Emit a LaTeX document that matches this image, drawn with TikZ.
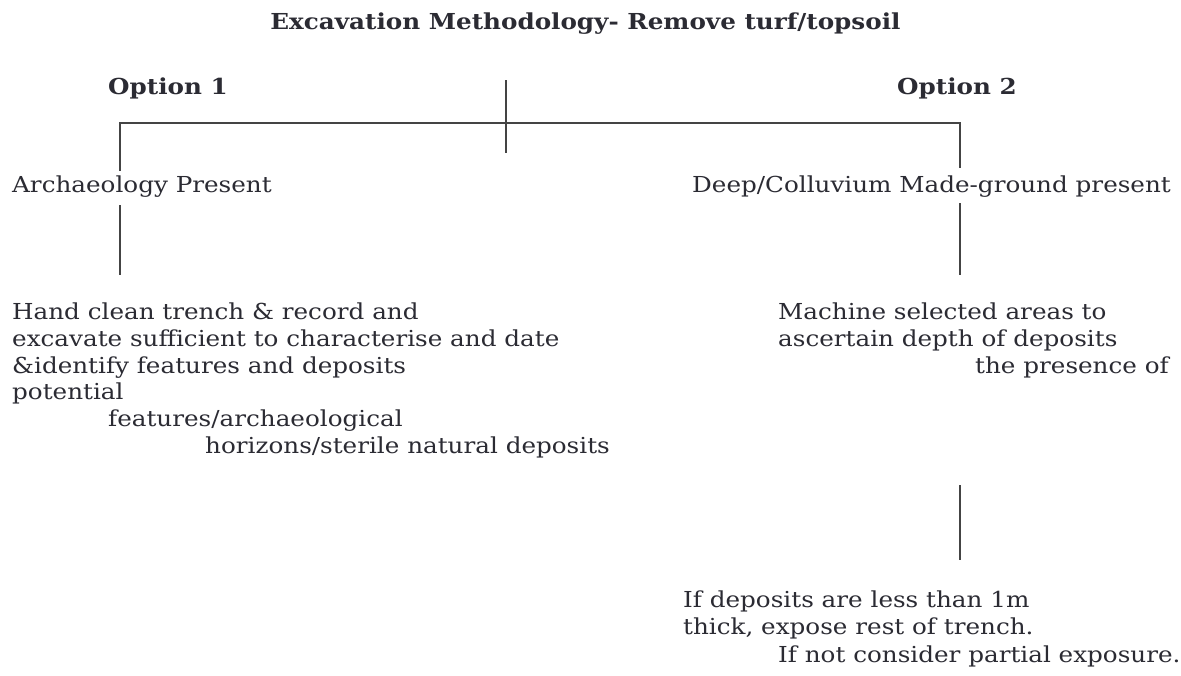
\documentclass[tikz,border=0pt]{standalone}
\usepackage{fontspec}
\setmainfont{DejaVu Serif}[FakeStretch=1.12]
\definecolor{ink}{HTML}{2B2B33}
\definecolor{rule}{HTML}{444444}
\begin{document}
\begin{tikzpicture}[x=1pt,y=-1pt,
  txt/.style={anchor=base west,inner sep=0pt,text=ink,font=\fontsize{22}{26}\selectfont},
  hdr/.style={txt,font=\fontsize{22}{26}\selectfont\bfseries},
  conn/.style={draw=rule,line width=1.4pt}]
\useasboundingbox[fill=white] (0,0) rectangle (1181,675);
\node[hdr,anchor=base] (title) at (585.5,29) {Excavation Methodology- Remove turf/topsoil};
\node[hdr] (opt1) at (108,94) {Option 1};
\node[hdr] (opt2) at (897,94) {Option 2};
\node[txt] (arch) at (12,192) {Archaeology Present};
\node[txt] (deep) at (692,192) {Deep/Colluvium Made-ground present};
\node[txt] (l1) at (12,319) {Hand clean trench \& record and};
\node[txt] (l2) at (12,346) {excavate sufficient to characterise and date};
\node[txt] (l3) at (12,373) {\&identify features and deposits};
\node[txt] (l4) at (12,399) {potential};
\node[txt] (l5) at (108,426) {features/archaeological};
\node[txt] (l6) at (205,453) {horizons/sterile natural deposits};
\node[txt] (r1) at (778,319) {Machine selected areas to};
\node[txt] (r2) at (778,346) {ascertain depth of deposits};
\node[txt] (r3) at (975,373) {the presence of};
\node[txt] (b1) at (683,607) {If deposits are less than 1m};
\node[txt] (b2) at (683,634) {thick, expose rest of trench.};
\node[txt] (b3) at (778,662) {If not consider partial exposure.};
\coordinate (topA) at (506,80);
\coordinate (topB) at (506,153);
\coordinate (hL) at (120,123);
\coordinate (hR) at (960,123);
\coordinate (lA) at (120,171);
\coordinate (rA) at (960,168);
\coordinate (lB1) at (120,205);
\coordinate (lB2) at (120,275);
\coordinate (rB1) at (960,203);
\coordinate (rB2) at (960,275);
\coordinate (rC1) at (960,485);
\coordinate (rC2) at (960,560);
\draw[conn] (topA) -- (topB);
\draw[conn] (lA) -- (hL) -- (hR) -- (rA);
\draw[conn] (lB1) -- (lB2);
\draw[conn] (rB1) -- (rB2);
\draw[conn] (rC1) -- (rC2);
\end{tikzpicture}
\end{document}
